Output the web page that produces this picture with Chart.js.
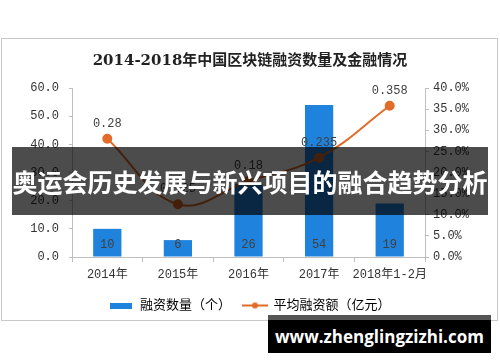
<!DOCTYPE html>
<html>
<head>
<meta charset="utf-8">
<script src="https://cdn.jsdelivr.net/npm/chart.js@4/dist/chart.umd.min.js"></script>
<style>
  body { margin: 0; background: #fff; }
  #wrap { position: relative; width: 500px; height: 362px; overflow: hidden; background: #fff; }
  #frame { position: absolute; left: 1px; top: 38px; width: 495px; height: 281px; border: 1px solid #c9c9c9; }
  #chart { position: absolute; left: 0; top: 0; }
  #banner {
    position: absolute; left: 12px; top: 147px; width: 476px; height: 68px;
    background: rgba(0, 0, 0, 0.7); color: #fff;
    font: bold 25px "Noto Sans CJK SC", sans-serif;
    display: flex; align-items: center; justify-content: center; white-space: nowrap;
  }
  #site {
    position: absolute; left: 268px; top: 315px; width: 223px; height: 33px;
    border-top: 5px solid #555; background: #000; color: #fff;
    font: bold 17px "Open Sans", sans-serif;
    display: flex; align-items: center; justify-content: center;
  }
</style>
</head>
<body>
<div id="wrap">
  <div id="frame"></div>
  <canvas id="chart" width="500" height="362"></canvas>
  <div id="banner">奥运会历史发展与新兴项目的融合趋势分析</div>
  <div id="site">www.zhenglingzizhi.com</div>
</div>
<script>
// ===================== Data =====================
const years = ['2014年', '2015年', '2016年', '2017年', '2018年1-2月'];
const counts = [10, 6, 26, 54, 19];
const avgAmounts = [0.28, 0.125, 0.18, 0.235, 0.358];
const countLabel = '融资数量（个）';
const amountLabel = '平均融资额（亿元）';

const BLUE = '#1f82dc';
const ORANGE = '#e26b28';
const AXIS = '#bfbfbf';
const MONO = '"Liberation Mono", "Noto Sans CJK SC", monospace';

// ===================== Legend swatches =====================
function swatch(w, h, draw) {
    const c = document.createElement('canvas');
    c.width = w;
    c.height = h;
    draw(c.getContext('2d'));
    return c;
}
const barSwatch = swatch(22, 6, ctx => {
    ctx.fillStyle = BLUE;
    ctx.fillRect(0, 0, 22, 6);
});
const lineSwatch = swatch(26, 8, ctx => {
    ctx.strokeStyle = ORANGE;
    ctx.lineWidth = 2;
    ctx.beginPath();
    ctx.moveTo(0, 4);
    ctx.lineTo(26, 4);
    ctx.stroke();
    ctx.fillStyle = ORANGE;
    ctx.beginPath();
    ctx.arc(13, 4, 3, 0, Math.PI * 2);
    ctx.fill();
});

// ===================== Value labels =====================
const valueLabels = {
    id: 'valueLabels',
    afterDatasetsDraw(chart) {
        const ctx = chart.ctx;
        ctx.save();
        ctx.font = '12px ' + MONO;
        ctx.fillStyle = '#404040';
        ctx.textAlign = 'center';
        ctx.textBaseline = 'middle';
        chart.getDatasetMeta(0).data.forEach((bar, i) => {
            ctx.fillText(String(counts[i]), bar.x, bar.base - 12);
        });
        chart.getDatasetMeta(1).data.forEach((pt, i) => {
            ctx.fillText(String(avgAmounts[i]), pt.x, pt.y - 15);
        });
        ctx.restore();
    }
};

// ===================== Chart =====================
new Chart(document.getElementById('chart').getContext('2d'), {
    data: {
        labels: years,
        datasets: [{
            type: 'bar',
            label: countLabel,
            data: counts,
            backgroundColor: BLUE,
            barPercentage: 0.4,
            categoryPercentage: 1,
            yAxisID: 'y',
            order: 2
        }, {
            type: 'line',
            label: amountLabel,
            data: avgAmounts,
            borderColor: ORANGE,
            backgroundColor: ORANGE,
            borderWidth: 2,
            pointRadius: 4,
            tension: 0.4,
            yAxisID: 'y1',
            order: 1
        }]
    },
    options: {
        responsive: false,
        animation: false,
        devicePixelRatio: 1,
        layout: { padding: { left: 0, right: 0, top: 0, bottom: 40 } },
        plugins: {
            title: {
                display: true,
                text: '2014-2018年中国区块链融资数量及金融情况',
                color: '#222',
                font: { family: '"DejaVu Serif", "Noto Sans CJK SC", serif', size: 15, weight: 'bold' },
                padding: { top: 52, bottom: 18 }
            },
            legend: {
                position: 'bottom',
                labels: {
                    usePointStyle: true,
                    pointStyleWidth: 24,
                    padding: 12,
                    color: '#333',
                    font: { family: MONO, size: 13 },
                    generateLabels: chart => chart.data.datasets.map((ds, i) => ({
                        text: ds.label,
                        pointStyle: i === 0 ? barSwatch : lineSwatch,
                        fillStyle: ds.backgroundColor,
                        strokeStyle: ds.backgroundColor,
                        lineWidth: 0,
                        hidden: false,
                        datasetIndex: i
                    }))
                }
            },
            tooltip: { enabled: false }
        },
        scales: {
            x: {
                grid: { display: true, drawOnChartArea: false, drawTicks: true, tickLength: 5, color: AXIS, offset: true },
                border: { display: true, color: AXIS },
                ticks: { color: '#333', font: { family: MONO, size: 12 }, padding: 6, maxRotation: 0, autoSkip: false },
                afterFit(scale) { scale.height = 30; }
            },
            y: {
                position: 'left',
                min: 0,
                max: 60,
                grid: { display: true, drawOnChartArea: false, drawTicks: true, tickLength: 3, color: AXIS },
                border: { display: true, color: AXIS },
                ticks: {
                    stepSize: 10,
                    color: '#333',
                    font: { family: MONO, size: 12 },
                    padding: 10,
                    callback: v => v.toFixed(1)
                },
                afterFit(scale) { scale.width = 72; }
            },
            y1: {
                position: 'right',
                min: 0,
                max: 0.4,
                grid: { display: true, drawOnChartArea: false, drawTicks: true, tickLength: 4, color: AXIS },
                border: { display: true, color: AXIS },
                ticks: {
                    stepSize: 0.05,
                    color: '#333',
                    font: { family: MONO, size: 12 },
                    padding: 4,
                    callback: v => (v * 100).toFixed(1) + '%'
                },
                afterFit(scale) { scale.width = 75; }
            }
        }
    },
    plugins: [valueLabels]
});
</script>
</body>
</html>
